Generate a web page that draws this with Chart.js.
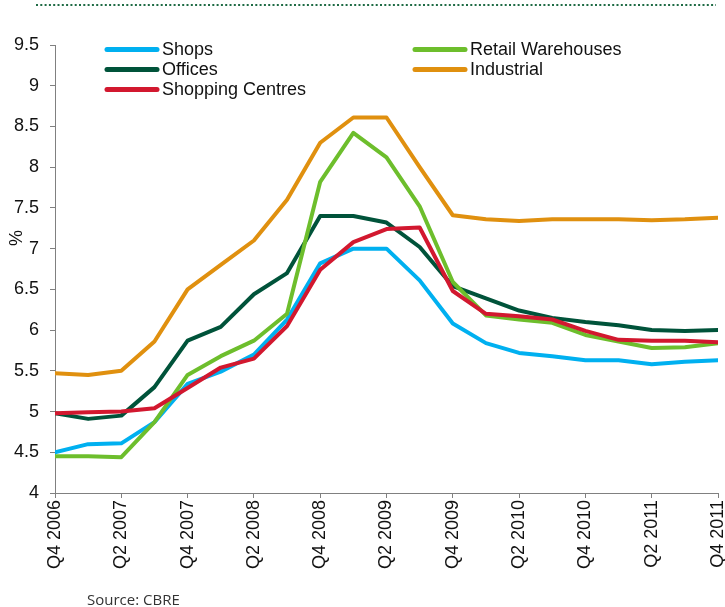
<!DOCTYPE html>
<html>
<head>
<meta charset="utf-8">
<script src="https://cdn.jsdelivr.net/npm/chart.js@4"></script>
<style>
  html, body { margin: 0; padding: 0; background: #fff; }
  #wrap { position: relative; width: 725px; height: 607px; }
  canvas { display: block; }
</style>
</head>
<body>
<div id="wrap"><canvas id="c" width="725" height="607"></canvas></div>
<script>
const quarters = [
  "Q4 2006", "Q1 2007", "Q2 2007", "Q3 2007", "Q4 2007",
  "Q1 2008", "Q2 2008", "Q3 2008", "Q4 2008",
  "Q1 2009", "Q2 2009", "Q3 2009", "Q4 2009",
  "Q1 2010", "Q2 2010", "Q3 2010", "Q4 2010",
  "Q1 2011", "Q2 2011", "Q3 2011", "Q4 2011"
];
const seriesNames = ["Shops", "Retail Warehouses", "Offices", "Industrial", "Shopping Centres"];
const shops = [4.50, 4.60, 4.61, 4.87, 5.34, 5.49, 5.70, 6.13, 6.82, 7.00, 7.00, 6.61, 6.08, 5.84, 5.72, 5.68, 5.63, 5.63, 5.58, 5.61, 5.63];
const retailWarehouses = [4.45, 4.45, 4.44, 4.87, 5.45, 5.68, 5.87, 6.20, 7.82, 8.42, 8.12, 7.52, 6.59, 6.18, 6.13, 6.09, 5.94, 5.86, 5.78, 5.79, 5.84];
const offices = [4.98, 4.91, 4.95, 5.30, 5.87, 6.04, 6.44, 6.70, 7.40, 7.40, 7.32, 7.02, 6.54, 6.39, 6.24, 6.15, 6.10, 6.06, 6.00, 5.99, 6.00];
const industrial = [5.47, 5.45, 5.50, 5.86, 6.50, 6.80, 7.10, 7.60, 8.30, 8.61, 8.61, 8.00, 7.41, 7.36, 7.34, 7.36, 7.36, 7.36, 7.35, 7.36, 7.38];
const shoppingCentres = [4.98, 4.99, 5.00, 5.04, 5.29, 5.54, 5.65, 6.05, 6.74, 7.08, 7.24, 7.26, 6.48, 6.20, 6.17, 6.13, 5.99, 5.88, 5.87, 5.87, 5.85];
const yTicks = [4, 4.5, 5, 5.5, 6, 6.5, 7, 7.5, 8, 8.5, 9, 9.5];
const yTitle = "%";
const sourceText = "Source: CBRE";

const seriesValues = [shops, retailWarehouses, offices, industrial, shoppingCentres];
const colors = ["#00b0f0", "#6dbe2c", "#00533a", "#e0900f", "#d2182f"];
const drawOrder = [5, 2, 4, 3, 1];

const FONT = "Arial, 'Liberation Sans', Arimo, Helvetica, sans-serif";

const datasets = seriesNames.map((name, k) => ({
  label: name,
  data: seriesValues[k].map((v, i) => ({ x: i, y: v })),
  borderColor: colors[k],
  backgroundColor: colors[k],
  borderWidth: 4,
  pointRadius: 0,
  pointHoverRadius: 0,
  tension: 0,
  fill: false,
  borderCapStyle: 'round',
  borderJoinStyle: 'round',
  order: drawOrder[k]
}));

const extras = {
  id: 'extras',
  afterDraw(chart) {
    const ctx = chart.ctx;
    ctx.save();
    // top dotted rule
    ctx.strokeStyle = "#1f6b45";
    ctx.lineWidth = 2;
    ctx.setLineDash([2, 2.3]);
    ctx.beginPath();
    ctx.moveTo(36, 5);
    ctx.lineTo(716, 5);
    ctx.stroke();
    ctx.setLineDash([]);

    // legend (2 columns)
    const colX = [105, 413];
    const rowY = [49.5, 69.5, 89.5];
    ctx.font = "18px " + FONT;
    ctx.textBaseline = "middle";
    ctx.textAlign = "left";
    chart.data.datasets.forEach((ds, i) => {
      const x0 = colX[i % 2];
      const y0 = rowY[Math.floor(i / 2)];
      ctx.strokeStyle = ds.borderColor;
      ctx.lineWidth = 5;
      ctx.lineCap = "round";
      ctx.beginPath();
      ctx.moveTo(x0 + 2, y0);
      ctx.lineTo(x0 + 52, y0);
      ctx.stroke();
      ctx.fillStyle = "#111";
      ctx.fillText(ds.label, x0 + 57, y0 + 1);
    });

    // y title
    ctx.save();
    ctx.translate(17, 238);
    ctx.rotate(-Math.PI / 2);
    ctx.textAlign = "center";
    ctx.textBaseline = "middle";
    ctx.font = "18px " + FONT;
    ctx.fillStyle = "#111";
    ctx.fillText(yTitle, 0, 0);
    ctx.restore();

    // source
    ctx.font = "15px 'Open Sans', Lato, sans-serif";
    ctx.fillStyle = "#333";
    ctx.textAlign = "left";
    ctx.textBaseline = "alphabetic";
    ctx.fillText(sourceText, 87, 605);
    ctx.restore();
  }
};

new Chart(document.getElementById('c'), {
  type: 'line',
  data: { datasets },
  plugins: [extras],
  options: {
    responsive: false,
    animation: false,
    events: [],
    layout: { padding: { top: 45, left: 0, right: 0, bottom: 0 } },
    plugins: { legend: { display: false }, tooltip: { enabled: false } },
    scales: {
      x: {
        type: 'linear',
        min: 0,
        max: quarters.length - 1,
        afterBuildTicks(scale) {
          scale.ticks = quarters.map((q, i) => ({ value: i })).filter(t => t.value % 2 === 0);
        },
        afterFit(scale) {
          scale.height = 114;
          scale.paddingLeft = 0;
          scale.paddingRight = 7;
        },
        ticks: {
          autoSkip: false,
          maxRotation: 90,
          minRotation: 90,
          padding: 2,
          color: "#111",
          font: { family: FONT, size: 18 },
          callback: (v) => quarters[v] !== undefined ? quarters[v] : ''
        },
        grid: {
          display: true,
          drawOnChartArea: false,
          drawTicks: true,
          tickLength: 5,
          color: "#808080",
          tickColor: "#808080"
        },
        border: { display: true, color: "#808080", width: 1 }
      },
      y: {
        min: 4,
        max: 9.5,
        afterBuildTicks(scale) {
          scale.ticks = yTicks.map(v => ({ value: v }));
        },
        afterFit(scale) {
          scale.width = 55;
        },
        ticks: {
          padding: 11,
          color: "#111",
          font: { family: FONT, size: 18 },
          callback: (v) => String(v)
        },
        grid: {
          display: true,
          drawOnChartArea: false,
          drawTicks: true,
          tickLength: 5,
          color: "#808080",
          tickColor: "#808080"
        },
        border: { display: true, color: "#808080", width: 1 }
      }
    }
  }
});
</script>
</body>
</html>
